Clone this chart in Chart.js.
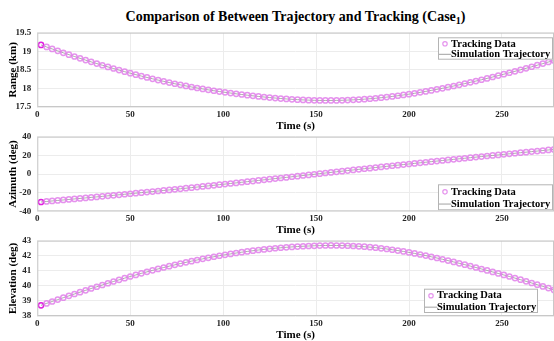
<!DOCTYPE html>
<html>
<head>
<meta charset="utf-8">
<script src="https://cdn.jsdelivr.net/npm/chart.js@4.4.1/dist/chart.umd.min.js"></script>
<style>
  html, body { margin: 0; padding: 0; background: #fff; overflow: hidden; }
  body { width: 554px; height: 341px; position: relative; font-family: "Liberation Serif", "Times New Roman", serif; }
  #title { position: absolute; left: 37px; width: 517px; top: 9px; text-align: center; font-weight: bold; font-size: 14px; line-height: 16px; color: #000; white-space: nowrap; }
  #title sub { font-size: 10px; vertical-align: -3px; line-height: 0; }
  canvas { position: absolute; left: 0; }
</style>
</head>
<body>
<div id="title">Comparison of Between Trajectory and Tracking (Case<sub>1</sub>)</div>
<canvas id="rangeChart" width="554" height="105" style="top:27px"></canvas>
<canvas id="azimuthChart" width="554" height="105" style="top:131px"></canvas>
<canvas id="elevationChart" width="554" height="106" style="top:235px"></canvas>
<script>
// time samples (s)
const time = [2,5,8,11,14,17,20,23,26,29,32,35,38,41,44,47,50,53,56,59,62,65,68,71,74,77,80,83,86,89,92,95,98,101,104,107,110,113,116,119,122,125,128,131,134,137,140,143,146,149,152,155,158,161,164,167,170,173,176,179,182,185,188,191,194,197,200,203,206,209,212,215,218,221,224,227,230,233,236,239,242,245,248,251,254,257,260,263,266,269,272,275,278];

// range (km)
const range = [19.170,19.116,19.063,19.011,18.959,18.909,18.859,18.810,18.762,18.715,18.669,18.624,18.579,18.536,18.493,18.451,18.410,
  18.371,18.332,18.295,18.259,18.224,18.190,18.158,18.126,18.096,18.067,18.039,18.012,17.986,17.962,17.938,17.916,17.895,
  17.875,17.855,17.836,17.818,17.801,17.784,17.769,17.754,17.741,17.728,17.717,17.707,17.698,17.691,17.685,17.680,17.677,17.676,17.676,
  17.678,17.681,17.686,17.693,17.701,17.711,17.722,17.735,17.750,17.766,17.784,17.803,17.824,17.846,
  17.869,17.894,17.920,17.947,17.975,18.004,18.034,18.065,
  18.097,18.130,18.164,18.199,18.234,18.270,18.307,18.345,18.383,
  18.422,18.461,18.501,18.542,18.583,18.625,18.668,18.711,18.754];

// azimuth (deg)
const azimuth = [-30.00,-29.46,-28.92,-28.38,-27.84,-27.30,-26.75,-26.20,-25.65,-25.10,-24.54,-23.98,-23.42,-22.86,-22.30,-21.73,-21.16,
  -20.59,-20.01,-19.43,-18.84,-18.25,-17.66,-17.06,-16.46,-15.85,-15.24,-14.62,-14.00,-13.37,-12.74,-12.10,-11.46,-10.82,
  -10.17,-9.52,-8.87,-8.22,-7.57,-6.92,-6.26,-5.60,-4.94,-4.28,-3.62,-2.96,-2.29,-1.62,-0.95,-0.28,0.39,
  1.06,1.72,2.38,3.04,3.70,4.35,5.00,5.65,6.30,6.94,7.58,8.22,8.86,9.49,10.12,10.75,
  11.38,12.00,12.62,13.24,13.86,14.47,15.08,15.69,16.30,16.90,17.50,18.10,18.70,19.29,19.88,20.47,21.06,
  21.65,22.24,22.83,23.42,24.01,24.60,25.19,25.78,26.37];

// elevation (deg)
const elevation = [38.710,38.837,38.964,39.089,39.214,39.339,39.462,39.584,39.705,39.825,39.943,40.060,40.176,40.290,40.402,40.513,40.622,
  40.728,40.831,40.932,41.030,41.126,41.219,41.309,41.397,41.482,41.564,41.643,41.720,41.794,41.866,41.934,42.000,42.064,
  42.124,42.182,42.236,42.288,42.336,42.381,42.423,42.462,42.498,42.531,42.561,42.587,42.611,42.631,42.648,42.663,42.674,
  42.681,42.684,42.682,42.675,42.664,42.648,42.627,42.601,42.570,42.535,42.495,42.450,42.400,42.345,42.286,42.222,
  42.155,42.084,42.010,41.932,41.851,41.767,41.680,41.591,
  41.500,41.408,41.314,41.219,41.122,41.025,40.926,40.826,40.725,
  40.622,40.517,40.411,40.302,40.192,40.080,39.966,39.851,39.733];

const legendLabels = ['Tracking Data', 'Simulation Trajectory'];
const FONT = '"Liberation Serif", "Times New Roman", serif';
const MARKER = 'rgba(224, 128, 234, 0.85)';
const MARKER_START = '#e020e0';
const SIMLINE = '#8a8a8a';

// box around the axes + MATLAB style legend
const frameAndLegend = {
    id: 'frameAndLegend',
    afterDatasetsDraw(chart, args, opts) {
        const { ctx, chartArea: a } = chart;
        ctx.save();
        ctx.strokeStyle = '#c8c8c8';
        ctx.lineWidth = 1;
        ctx.strokeRect(a.left + 0.5, a.top + 0.5, a.right - a.left - 1, a.bottom - a.top - 1);

        const b = opts.box;
        ctx.fillStyle = '#fff';
        ctx.fillRect(b.x, b.y, b.w, b.h);
        ctx.strokeStyle = '#b4b4b4';
        ctx.strokeRect(b.x + 0.5, b.y + 0.5, b.w - 1, b.h - 1);

        const row1 = b.y + b.h * 0.29;
        const row2 = b.y + b.h * 0.76;
        // marker sample
        ctx.strokeStyle = MARKER;
        ctx.lineWidth = 1.2;
        ctx.beginPath();
        ctx.arc(b.x + 7, row1, 2.2, 0, Math.PI * 2);
        ctx.stroke();
        // line sample
        ctx.strokeStyle = SIMLINE;
        ctx.lineWidth = 0.8;
        ctx.beginPath();
        ctx.moveTo(b.x + 1, row2);
        ctx.lineTo(b.x + 13, row2);
        ctx.stroke();

        ctx.fillStyle = '#000';
        ctx.font = 'bold 10.5px ' + FONT;
        ctx.textBaseline = 'middle';
        ctx.fillText(legendLabels[0], b.x + 13, row1);
        ctx.fillText(legendLabels[1], b.x + 13, row2);
        ctx.restore();
    }
};

const makeChart = (id, values, yMin, yMax, yStep, yTitle, box, axisH) => {
    const ctx = document.getElementById(id);
    const pts = time.map((t, i) => ({ x: t, y: values[i] }));
    return new Chart(ctx, {
        type: 'line',
        data: {
            datasets: [{
                label: legendLabels[0],
                data: pts,
                showLine: false,
                pointStyle: 'circle',
                pointRadius: 2.6,
                pointBorderWidth: 1.5,
                pointBorderColor: (c) => c.dataIndex === 0 ? MARKER_START : MARKER,
                pointBackgroundColor: 'rgba(0,0,0,0)'
            }, {
                label: legendLabels[1],
                data: pts,
                borderColor: SIMLINE,
                borderWidth: 0.7,
                pointRadius: 0,
                tension: 0
            }]
        },
        options: {
            responsive: false,
            animation: false,
            events: [],
            layout: { padding: { top: 5.7, left: 0, right: 0, bottom: 0 }, autoPadding: false },
            plugins: {
                legend: { display: false },
                tooltip: { enabled: false },
                frameAndLegend: { box: box }
            },
            scales: {
                x: {
                    type: 'linear',
                    min: 0,
                    max: 278,
                    afterFit: (scale) => { scale.height = axisH; },
                    grid: { color: '#ececec', drawTicks: false },
                    border: { display: false },
                    ticks: {
                        stepSize: 50,
                        includeBounds: false,
                        padding: 2,
                        color: '#262626',
                        font: { family: FONT, size: 9, weight: 'bold' },
                        maxRotation: 0
                    },
                    title: {
                        display: true,
                        text: 'Time (s)',
                        color: '#000',
                        padding: { top: 0, bottom: 0 },
                        font: { family: FONT, size: 11, weight: 'bold', lineHeight: 1 }
                    }
                },
                y: {
                    min: yMin,
                    max: yMax,
                    afterFit: (scale) => { scale.width = 37.3; },
                    // invisible tick marks push labels off the axis without adding top padding
                    grid: { color: '#ececec', drawTicks: true, tickLength: 6, tickColor: 'rgba(0,0,0,0)' },
                    border: { display: false },
                    ticks: {
                        stepSize: yStep,
                        padding: 0,
                        color: '#262626',
                        font: { family: FONT, size: 9, weight: 'bold' },
                        callback: (v) => String(+v.toFixed(2))
                    },
                    title: {
                        display: true,
                        text: yTitle,
                        color: '#000',
                        padding: { top: 7.5, bottom: 0 },
                        font: { family: FONT, size: 11, weight: 'bold', lineHeight: 1 }
                    }
                }
            }
        },
        plugins: [frameAndLegend]
    });
};

makeChart('rangeChart', range, 17.5, 19.5, 0.5, 'Range (km)', { x: 438, y: 10.3, w: 115, h: 22.4 }, 25);
makeChart('azimuthChart', azimuth, -40, 40, 20, 'Azimuth (deg)', { x: 438, y: 53.3, w: 115, h: 26 }, 24.7);
makeChart('elevationChart', elevation, 38, 43, 1, 'Elevation (deg)', { x: 424, y: 53.7, w: 114, h: 24.3 }, 25);
</script>
</body>
</html>
